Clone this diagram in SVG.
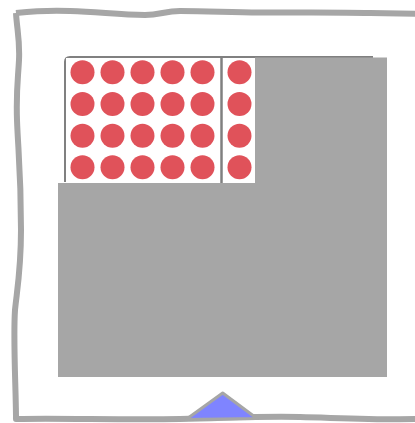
<svg xmlns="http://www.w3.org/2000/svg" width="415" height="423" viewBox="0 0 415 423">
<style>
.dot{fill:#e0525a}
.frame{fill:none;stroke:#a6a6a6;stroke-width:6;stroke-linejoin:round}
.block{fill:#a6a6a6}
</style>
<rect width="415" height="423" fill="#ffffff"/>
<g id="frame">
<path class="frame" d="M16,13 C35,11 50,10 70,11 C100,12 120,15 145,15 C160,15 165,11 180,11 C210,11 230,12.5 260,12.5 C300,12.5 340,12 370,13 L418,13.8 M16,13 C17,30 20,40 19,60 C18,80 16,90 17,120 C18,150 21,170 21,230 C21,270 17,290 15,310 C13,340 16,390 16,419 C60,418 120,420 180,419 C230,418 260,416 300,417 C340,418 380,420 418,419"/>
</g>
<g id="panel">
<path d="M65,182 L65,62 Q65,57 70,57 L373,57" fill="#ffffff" stroke="#808080" stroke-width="2"/>
<rect x="66" y="58" width="189" height="124" fill="#ffffff"/>
<line x1="221.5" y1="58" x2="221.5" y2="183" stroke="#808080" stroke-width="2.5"/>
<rect class="block" x="255" y="57.5" width="132" height="126"/>
<rect class="block" x="58" y="183" width="329" height="194"/>
</g>
<g id="dots">
<circle class="dot" cx="82.5" cy="72.3" r="12"/><circle class="dot" cx="112.5" cy="72.3" r="12"/><circle class="dot" cx="142.5" cy="72.3" r="12"/><circle class="dot" cx="172.5" cy="72.3" r="12"/><circle class="dot" cx="202.5" cy="72.3" r="12"/><circle class="dot" cx="239.5" cy="72.3" r="12"/>
<circle class="dot" cx="82.5" cy="104" r="12"/><circle class="dot" cx="112.5" cy="104" r="12"/><circle class="dot" cx="142.5" cy="104" r="12"/><circle class="dot" cx="172.5" cy="104" r="12"/><circle class="dot" cx="202.5" cy="104" r="12"/><circle class="dot" cx="239.5" cy="104" r="12"/>
<circle class="dot" cx="82.5" cy="135.7" r="12"/><circle class="dot" cx="112.5" cy="135.7" r="12"/><circle class="dot" cx="142.5" cy="135.7" r="12"/><circle class="dot" cx="172.5" cy="135.7" r="12"/><circle class="dot" cx="202.5" cy="135.7" r="12"/><circle class="dot" cx="239.5" cy="135.7" r="12"/>
<circle class="dot" cx="82.5" cy="167.3" r="12"/><circle class="dot" cx="112.5" cy="167.3" r="12"/><circle class="dot" cx="142.5" cy="167.3" r="12"/><circle class="dot" cx="172.5" cy="167.3" r="12"/><circle class="dot" cx="202.5" cy="167.3" r="12"/><circle class="dot" cx="239.5" cy="167.3" r="12"/>
</g>
<g id="marker">
<polygon points="186,419.5 222.7,393 257,418.5" fill="#7f84ff" stroke="#a6a6a6" stroke-width="3" stroke-linejoin="round"/>
</g>
<g id="connectors"/>
</svg>
